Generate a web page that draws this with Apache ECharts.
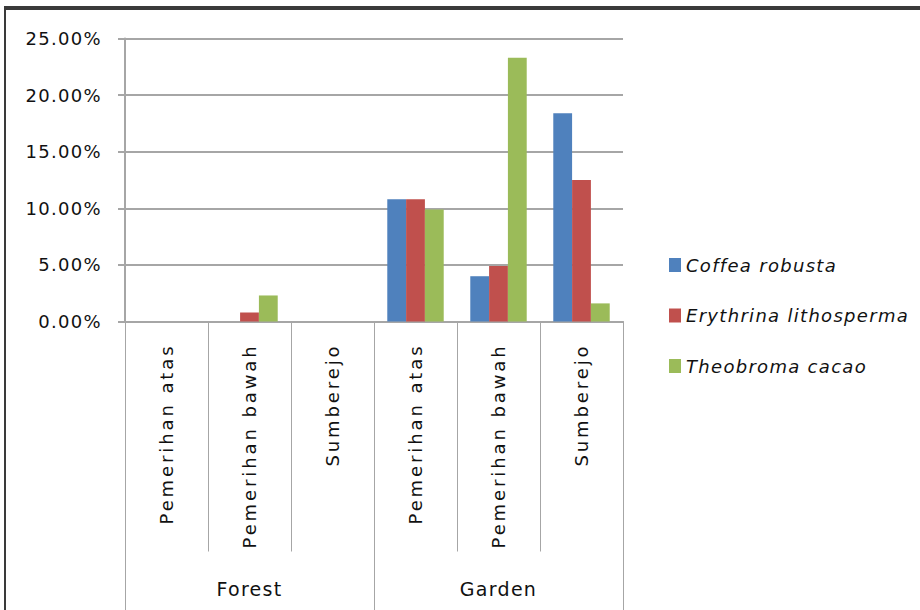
<!DOCTYPE html>
<html>
<head>
<meta charset="utf-8">
<script src="https://cdn.jsdelivr.net/npm/echarts@6/dist/echarts.min.js"></script>
<style>
  html, body { margin: 0; padding: 0; background: #fff; }
  #chart { width: 920px; height: 610px; }
  /* loose tracking for all chart text, wider for the rotated site names */
  #chart text { letter-spacing: 1.3px; }
  #chart text[style*="SiteLabel"], #chart text[font-family*="SiteLabel"] { letter-spacing: 2.9px; }
</style>
</head>
<body>
<div id="chart"></div>
<script>
// Sites within each land-use type, and the land-use groups
const sites = ['Pemerihan atas', 'Pemerihan bawah', 'Sumberejo',
               'Pemerihan atas', 'Pemerihan bawah', 'Sumberejo'];
const groups = ['Forest', 'Garden'];

// Share (%) of each species per site
const coffeaRobusta = [0, 0, 0, 10.8, 4.0, 18.4];
const erythrinaLithosperma = [0, 0.8, 0, 10.8, 4.9, 12.5];
const theobromaCacao = [0, 2.3, 0, 9.9, 23.3, 1.6];

const seriesNames = ['Coffea robusta', 'Erythrina lithosperma', 'Theobroma cacao'];
const seriesColors = ['#4F81BD', '#C0504D', '#9BBB59'];
const seriesValues = [coffeaRobusta, erythrinaLithosperma, theobromaCacao];

// Value axis ticks
const yMin = 0, yMax = 25, yStep = 5;

const FONT = '"DejaVu Sans", sans-serif';
const SITE_FONT = '"DejaVu Sans", SiteLabel, sans-serif';
const chart = echarts.init(document.getElementById('chart'), null, { renderer: 'svg' });

const option = {
  backgroundColor: '#ffffff',
  animation: false,
  grid: { left: 125, right: 297, top: 38.5, bottom: 288.5, containLabel: false },
  legend: {
    orient: 'vertical',
    left: 664,
    top: 251,
    itemWidth: 12,
    itemHeight: 14,
    itemGap: 32.5,
    icon: 'rect',
    data: seriesNames,
    textStyle: { fontFamily: FONT, fontStyle: 'italic', fontSize: 18, color: '#111', padding: [0, 0, 0, 0] }
  },
  xAxis: [
    {
      type: 'category',
      data: sites,
      position: 'bottom',
      axisLine: { show: true, lineStyle: { color: '#a6a6a6', width: 2 } },
      axisTick: { show: true, length: 230, interval: 0, lineStyle: { color: '#a6a6a6', width: 1 } },
      axisLabel: {
        interval: 0, rotate: 90, margin: 22,
        fontFamily: SITE_FONT, fontSize: 18, color: '#111'
      },
      splitLine: { show: false }
    },
    {
      type: 'category',
      data: groups,
      position: 'bottom',
      axisLine: { show: false },
      axisTick: { show: true, length: 290, interval: 0, lineStyle: { color: '#a6a6a6', width: 1 } },
      axisLabel: { interval: 0, margin: 258, fontFamily: FONT, fontSize: 19, color: '#111' },
      splitLine: { show: false }
    }
  ],
  yAxis: {
    type: 'value',
    min: yMin,
    max: yMax,
    interval: yStep,
    axisLine: { show: true, lineStyle: { color: '#a6a6a6', width: 2 } },
    axisTick: { show: true, length: 7, lineStyle: { color: '#a6a6a6', width: 2 } },
    splitLine: { show: true, lineStyle: { color: '#a6a6a6', width: 2 } },
    axisLabel: {
      margin: 23,
      fontFamily: FONT, fontSize: 18, color: '#111',
      formatter: v => v.toFixed(2) + '%'
    }
  },
  series: seriesNames.map((name, i) => ({
    name,
    type: 'bar',
    xAxisIndex: 0,
    data: seriesValues[i],
    barGap: '0%',
    barCategoryGap: '32%',
    itemStyle: { color: seriesColors[i] }
  })),
  graphic: [
    // outer frame of the chart area
    { type: 'line', shape: { x1: 5, y1: 8, x2: 920, y2: 8 }, style: { stroke: '#3a3a3a', lineWidth: 4 }, z: 100 },
    { type: 'line', shape: { x1: 5, y1: 6, x2: 5, y2: 610 }, style: { stroke: '#3a3a3a', lineWidth: 2 }, z: 100 }
  ]
};

chart.setOption(option);
</script>
</body>
</html>
